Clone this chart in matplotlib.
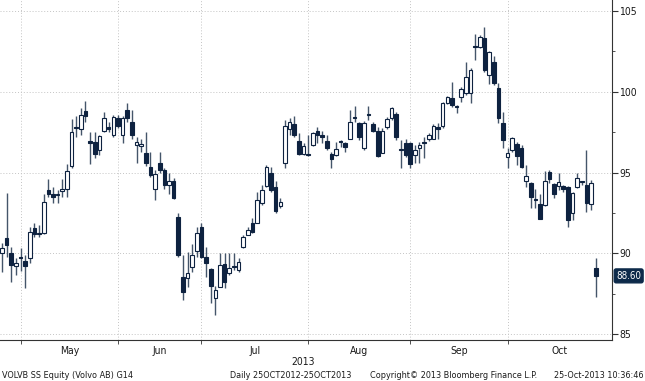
import numpy as np
import matplotlib
matplotlib.use("Agg")
import matplotlib.pyplot as plt

plt.rcParams['font.family'] = ['DejaVu Sans']
plt.rcParams['font.stretch'] = 'condensed'

# daily OHLC, Volvo B, late Apr 2013 - 25 Oct 2013
opens = [90.0, 90.94, 90.02, 89.2, 89.75, 89.5, 89.7, 91.56, 91.22, 91.25,
         93.9, 93.7, 93.6, 93.85, 93.98, 95.4, 97.78, 97.7, 98.8, 96.95,
         96.9, 96.4, 97.6, 97.8, 97.3, 98.4, 97.3, 98.87, 98.1, 96.7,
         96.65, 96.2, 95.34, 94.0, 95.6, 95.15, 94.2, 94.5, 92.25, 88.5,
         88.47, 89.15, 90.14, 91.6, 89.77, 89.0, 87.2, 87.9, 89.33, 88.8,
         89.18, 88.96, 90.4, 91.13, 91.9, 91.9, 93.1, 94.16, 94.97, 94.1,
         92.9, 95.6, 97.7, 98.0, 96.95, 96.15, 96.1, 96.7, 97.6, 97.3,
         96.95, 96.15, 96.08, 96.92, 96.83, 97.1, 98.4, 98.07, 96.5, 98.58,
         98.0, 97.6, 96.2, 97.8, 98.4, 98.6, 96.42, 96.8, 96.8, 96.08,
         96.5, 96.85, 97.1, 97.1, 97.8, 97.88, 99.3, 99.6, 99.1, 99.67,
         99.9, 99.9, 102.8, 102.8, 103.33, 101.04, 101.85, 100.23, 98.07, 95.96,
         96.4, 96.77, 96.5, 94.5, 94.35, 93.32, 93.05, 93.0, 95.03, 94.3,
         94.16, 94.16, 94.1, 92.5, 94.1, 94.42, 94.2, 93.05, 89.1]
highs = [90.63, 93.73, 90.39, 89.7, 90.3, 89.9, 91.6, 91.9, 91.75, 93.7,
         94.6, 94.1, 93.9, 94.6, 95.5, 98.3, 98.5, 99.0, 99.4, 97.5,
         97.5, 97.3, 98.75, 98.1, 98.55, 98.55, 98.5, 99.3, 98.87, 97.2,
         97.05, 97.5, 96.3, 95.15, 96.3, 95.3, 94.96, 94.66, 92.5, 89.9,
         90.08, 90.57, 91.6, 91.9, 90.4, 89.09, 88.0, 90.0, 90.0, 90.0,
         90.0, 89.7, 91.13, 91.6, 92.2, 93.8, 94.2, 95.46, 95.34, 94.5,
         93.4, 98.25, 98.4, 98.5, 97.45, 96.8, 97.3, 97.5, 97.8, 97.6,
         97.3, 96.27, 96.9, 97.0, 96.9, 98.9, 99.1, 98.1, 98.2, 99.1,
         98.1, 97.8, 97.75, 98.45, 99.05, 98.75, 97.0, 97.1, 96.9, 96.7,
         96.9, 97.2, 97.45, 98.0, 98.07, 99.37, 99.75, 100.6, 99.15, 100.3,
         101.85, 101.47, 103.6, 103.5, 104.0, 102.5, 102.2, 100.54, 98.75, 96.5,
         97.2, 96.9, 96.7, 95.46, 94.4, 94.0, 93.7, 95.1, 95.15, 94.35,
         94.97, 94.2, 94.16, 93.8, 94.97, 94.5, 96.4, 94.54, 89.7]
lows = [88.84, 89.77, 88.22, 88.65, 88.9, 87.85, 89.4, 91.0, 91.0, 91.2,
        93.5, 93.1, 93.1, 93.5, 93.5, 95.3, 97.2, 97.3, 98.1, 95.5,
        95.9, 96.1, 97.5, 97.5, 97.2, 97.75, 96.8, 98.1, 97.1, 95.6,
        96.3, 95.4, 94.7, 93.3, 95.0, 94.0, 93.7, 93.36, 89.77, 87.1,
        87.9, 88.84, 89.77, 89.7, 88.5, 86.9, 86.2, 87.9, 87.85, 88.65,
        88.96, 88.84, 90.3, 91.1, 91.25, 91.87, 93.0, 94.1, 93.8, 92.5,
        92.8, 95.3, 97.3, 97.2, 96.08, 96.08, 96.0, 96.64, 96.8, 96.8,
        96.4, 95.3, 96.0, 96.6, 96.3, 97.07, 98.1, 97.0, 96.4, 98.25,
        97.5, 95.96, 96.2, 97.7, 98.25, 97.0, 95.3, 95.96, 95.3, 95.6,
        95.6, 95.9, 96.98, 97.07, 97.1, 97.75, 99.24, 99.05, 98.7, 99.37,
        99.8, 99.3, 101.97, 102.7, 101.2, 100.5, 100.4, 98.07, 96.5, 95.28,
        96.27, 95.46, 95.28, 94.1, 92.8, 92.8, 92.1, 92.9, 94.35, 93.4,
        93.9, 93.8, 91.6, 92.06, 94.04, 94.2, 92.55, 92.68, 87.3]
closes = [90.33, 90.51, 89.27, 89.4, 89.7, 89.2, 91.3, 91.2, 91.2, 93.17,
          93.7, 93.5, 93.7, 94.0, 95.1, 97.5, 97.75, 98.56, 98.5, 96.8,
          96.15, 97.25, 98.4, 97.7, 98.45, 97.9, 98.4, 98.4, 97.3, 96.9,
          96.75, 95.6, 94.85, 94.9, 95.15, 94.2, 94.5, 93.4, 89.9, 87.6,
          88.8, 89.9, 91.25, 89.77, 89.4, 87.97, 87.7, 89.27, 88.2, 89.1,
          89.15, 89.46, 91.0, 91.44, 91.3, 93.3, 93.9, 95.34, 93.9, 92.6,
          93.2, 97.9, 98.1, 97.3, 96.15, 96.64, 96.08, 97.45, 97.3, 97.2,
          96.5, 95.84, 96.45, 96.9, 96.58, 98.1, 98.37, 97.2, 98.06, 98.56,
          97.57, 96.0, 97.6, 98.3, 99.0, 97.2, 96.4, 96.08, 95.5, 96.4,
          96.7, 96.83, 97.3, 97.88, 97.7, 99.3, 99.7, 99.18, 99.05, 100.2,
          100.9, 101.35, 102.77, 103.4, 101.35, 102.46, 100.54, 98.37, 97.0, 96.2,
          97.14, 96.0, 95.34, 94.8, 93.48, 93.3, 92.1, 94.48, 94.6, 93.7,
          94.4, 93.97, 92.06, 93.73, 94.66, 94.4, 93.1, 94.35, 88.6]

months = ['May', 'Jun', 'Jul', 'Aug', 'Sep', 'Oct']
month_start = [4, 25, 43, 66, 88, 109]   # index of first trading day
yticks = [85, 90, 95, 100, 105]
last_px = closes[-1]

navy = '#0e2240'
wick_c = '#44556a'
txt_c = '#1a1a1a'

o = np.array(opens); h = np.array(highs); l = np.array(lows); c = np.array(closes)
x = np.arange(len(o))
up = c >= o

fig = plt.figure(figsize=(6.45, 3.81), dpi=100)
ax = fig.add_axes([0, 41 / 381, 612 / 645, 340 / 381])

ax.vlines(x, l, h, color=wick_c, lw=1.0, zorder=2)
body_lo = np.minimum(o, c)
body_h = np.maximum(np.abs(c - o), 0.07)
w = 0.78
ax.bar(x[up], body_h[up], bottom=body_lo[up], width=w, color='white',
       edgecolor=navy, linewidth=0.8, zorder=3)
ax.bar(x[~up], body_h[~up], bottom=body_lo[~up], width=w, color=navy,
       edgecolor=navy, linewidth=0.8, zorder=3)

xl = (-0.43, 131.5)
ax.set_xlim(*xl)
ax.set_ylim(84.63, 105.68)

# grid
for v in yticks:
    ax.axhline(v, color='#c4c4c4', lw=0.7, ls=(0, (1, 2)), zorder=1)
for m in month_start:
    ax.axvline(m, color='#c4c4c4', lw=0.7, ls=(0, (1, 2)), zorder=1)

for s in ['top', 'left']:
    ax.spines[s].set_visible(False)
ax.spines['right'].set_color('#333333')
ax.spines['bottom'].set_color('#333333')
ax.spines['right'].set_linewidth(0.8)
ax.spines['bottom'].set_linewidth(0.8)

ax.yaxis.tick_right()
ax.set_yticks(yticks)
ax.set_yticklabels([str(v) for v in yticks])
ax.set_yticks(np.arange(85, 106, 2.5), minor=True)
ax.tick_params(axis='y', which='major', direction='out', length=4, width=0.8,
               color='#333333', labelsize=7.5, labelcolor=txt_c, pad=1)
ax.tick_params(axis='y', which='minor', direction='out', length=2, width=0.6,
               color='#333333')

ax.set_xticks(month_start)
ax.set_xticklabels([])
ax.tick_params(axis='x', which='major', direction='out', length=3, width=0.6,
               color='#333333')

bounds = month_start + [xl[1]]
for i, mname in enumerate(months):
    mid = (bounds[i] + bounds[i + 1]) / 2
    ax.text(mid, -0.018, mname, transform=ax.get_xaxis_transform(),
            ha='center', va='top', fontsize=7.5, color=txt_c)

ax.text(303 / 612, -0.05, '2013', transform=ax.transAxes, ha='center',
        va='top', fontsize=7.5, color=txt_c)

# last price tag
ax.annotate(f'{last_px:.2f}', xy=(1.0, last_px), xycoords=('axes fraction', 'data'),
            xytext=(3, 0), textcoords='offset points', ha='left', va='center',
            fontsize=7, color='white',
            bbox=dict(boxstyle='round,pad=0.2', fc='#0d2a4a', ec='#0d2a4a'),
            annotation_clip=False)

# footer
fy = 6 / 381
fs = 6.5
fig.text(2 / 645, fy, 'VOLVB SS Equity (Volvo AB) G14', fontsize=fs,
         color=txt_c, va='center', ha='left')
fig.text(230 / 645, fy, 'Daily 25OCT2012-25OCT2013', fontsize=fs,
         color=txt_c, va='center', ha='left')
fig.text(370 / 645, fy, 'Copyright\u00a9 2013 Bloomberg Finance L.P.', fontsize=fs,
         color=txt_c, va='center', ha='left')
fig.text(643 / 645, fy, '25-Oct-2013 10:36:46', fontsize=fs,
         color=txt_c, va='center', ha='right')

fig.savefig('out.png', dpi=100)
